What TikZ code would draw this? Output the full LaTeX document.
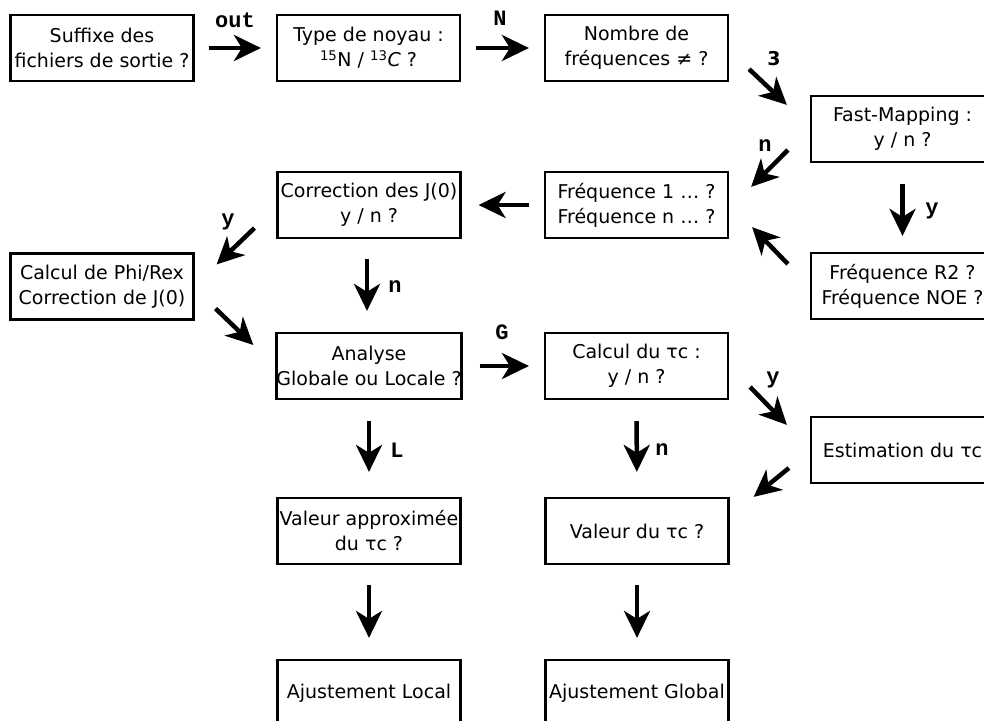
\documentclass[tikz,border=0pt]{standalone}
\usepackage{fontspec}
\setmainfont{DejaVu Sans}
\newfontfamily\labfont{Liberation Mono}
\usetikzlibrary{arrows.meta}
\begin{document}
\begin{tikzpicture}[x=1pt,y=-1pt,
  box/.style={draw, line width=2.2pt, minimum width=183, minimum height=66,
    align=center, inner sep=0pt, font=\fontsize{19}{25}\selectfont},
  arr/.style={line width=4.5pt, -{Stealth[length=27pt,width=26pt,inset=8pt]}},
  lab/.style={inner sep=0pt, font=\labfont\bfseries\fontsize{22}{22}\selectfont},
]
\clip (0,0) rectangle (984,720);
\fill[white] (0,0) rectangle (984,720);
% boxes
\node[box] (b1) at (102,48) {Suffixe des\\fichiers de sortie ?};
\node[box] (b2) at (368.5,48) {Type de noyau :\\\textsuperscript{15}N / \textsuperscript{13}\textit{C} ?};
\node[box] (b3) at (636.5,48) {Nombre de\\fréquences ≠ ?};
\node[box] (b4) at (902.5,129) {Fast-Mapping :\\y / n ?};
\node[box] (b5) at (636.5,205) {Fréquence 1 … ?\\Fréquence n … ?};
\node[box] (b6) at (369,205) {Correction des J(0)\\y / n ?};
\node[box] (b7) at (902.5,286) {Fréquence R2 ?\\Fréquence NOE ?};
\node[box] (b8) at (102,286.5) {Calcul de Phi/Rex\\Correction de J(0)};
\node[box] (b9) at (369,366) {Analyse\\Globale ou Locale ?};
\node[box] (b10) at (636.5,366) {Calcul du τc :\\y / n ?};
\node[box] (b11) at (902.5,450) {Estimation du τc};
\node[box] (b12) at (369,531) {Valeur approximée\\du τc ?};
\node[box] (b13) at (637,531) {Valeur du τc ?};
\node[box] (b14) at (369,693) {Ajustement Local};
\node[box] (b15) at (637,693) {Ajustement Global};
% straight arrows
\draw[arr, shorten <=14pt, shorten >=15pt] (b1) -- (b2);
\draw[arr, shorten <=15pt, shorten >=15pt] (b2) -- (b3);
\draw[arr, shorten <=15pt, shorten >=17pt] (b5) -- (b6);
\draw[arr, shorten <=17pt, shorten >=15pt] (b9) -- (b10);
\draw[arr, shorten <=21pt, shorten >=16pt] (b4) -- (b7);
\draw[arr, shorten <=20pt, shorten >=21pt] (b6.south -| 367,0) -- (b9.north -| 367,0);
\draw[arr, shorten <=21pt, shorten >=25pt] (b10) -- (b13);
\draw[arr, shorten <=21pt, shorten >=25pt] (b9) -- (b12);
\draw[arr, shorten <=20pt, shorten >=21pt] (b12) -- (b14);
\draw[arr, shorten <=20pt, shorten >=21pt] (b13) -- (b15);
% diagonal arrows
\draw[arr] ([shift={(20,-13)}]b3.south east) -- ([shift={(-23,10)}]b4.north west);
\draw[arr] ([shift={(-22,21)}]b4.west) -- ([shift={(22,16)}]b5.north east);
\draw[arr] ([shift={(-22,-22)}]b7.west) -- ([shift={(23,-12)}]b5.south east);
\draw[arr] ([shift={(-22,-11)}]b6.south west) -- ([shift={(22,12)}]b8.north east);
\draw[arr] ([shift={(21,-12)}]b8.south east) -- ([shift={(-22,-21)}]b9.west);
\draw[arr] ([shift={(21,21)}]b10.east) -- ([shift={(-23,9)}]b11.north west);
\draw[arr] ([shift={(-21,18)}]b11.west) -- ([shift={(24,0)}]b13.north east);
% labels
\node[lab] (l1) at (235,20) {out};
\node[lab] (l2) at (500,18) {N};
\node[lab, font=\bfseries\fontsize{19}{19}\selectfont] (l3) at (774,59) {3};
\node[lab] (l4) at (765,146) {n};
\node[lab] (l5) at (932,211) {y};
\node[lab] (l6) at (228,222) {y};
\node[lab] (l7) at (395,287) {n};
\node[lab] (l8) at (502,332) {G};
\node[lab] (l9) at (773,380) {y};
\node[lab] (l10) at (662,450) {n};
\node[lab] (l11) at (397,450) {L};
\end{tikzpicture}
\end{document}
